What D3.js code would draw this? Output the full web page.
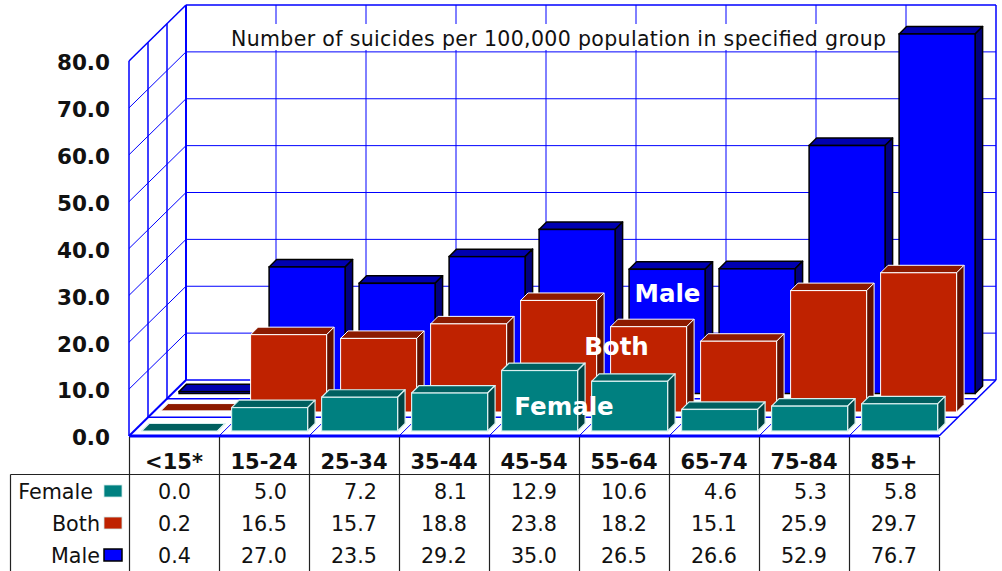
<!DOCTYPE html>
<html><head><meta charset="utf-8">
<script src="https://cdn.jsdelivr.net/npm/d3@7"></script>
<style>html,body{margin:0;padding:0;background:#fff;overflow:hidden}svg{display:block}text{font-family:"DejaVu Sans",Verdana,sans-serif}</style>
</head><body><svg id="c" width="1002" height="571"></svg>
<script>
const categories=["<15*","15-24","25-34","35-44","45-54","55-64","65-74","75-84","85+"];
const female=[0.0,5.0,7.2,8.1,12.9,10.6,4.6,5.3,5.8];
const both=[0.2,16.5,15.7,18.8,23.8,18.2,15.1,25.9,29.7];
const male=[0.4,27.0,23.5,29.2,35.0,26.5,26.6,52.9,76.7];
const seriesNames=["Female","Both","Male"];
const tickValues=[0,10,20,30,40,50,60,70,80];
const titleText="Number of suicides per 100,000 population in specified group";

const series=[
 {name:"Female",values:female,front:"#008080",top:"#006060",side:"#004444",stroke:"#d8f0f0",sw:1.2,depth:6,label:[564,415]},
 {name:"Both",values:both,front:"#bf2200",top:"#8c1a00",side:"#5f1000",stroke:"#ffffff",sw:1,depth:25,label:[616.5,355]},
 {name:"Male",values:male,front:"#0000ff",top:"#0000b0",side:"#00007f",stroke:"#000000",sw:1.5,depth:43.5,label:[667.5,302]}
];
const svg=d3.select("#c");
const x=d3.scaleBand().domain(categories).range([129,939]);
const y=d3.scaleLinear().domain([0,80]).range([436,61]);
const D=57, Dy=56, blue="#0000ff";
const g=svg.append("g");
const line=(x1,y1,x2,y2,w=1,c=blue)=>g.append("line").attr("x1",x1).attr("y1",y1).attr("x2",x2).attr("y2",y2).attr("stroke",c).attr("stroke-width",w);
const x0=x.range()[0],x1=x.range()[1];
// walls and floor
tickValues.forEach(t=>{
  const yy=y(t);
  if(t>0&&t<80){line(x0,yy,x0+D,yy-Dy);line(x0+D,yy-Dy,x1+D,yy-Dy);}
});
const edges=categories.map(c=>x(c)).concat([x1]);
edges.forEach((e,i)=>{
  if(i>0&&i<categories.length) {line(e+D,y(0)-Dy,e+D,y(80)-Dy);line(e,y(0),e+D,y(0)-Dy);}
});
[19,38].forEach(d=>{
  const dy=d*Dy/D;
  line(x0+d,y(0)-dy,x0+d,y(80)-dy,1.5);
  line(x0+d,y(0)-dy,x1+d,y(0)-dy,1.5);
});
line(x0,y(0),x0+D,y(0)-Dy,2);
line(x0,y(0),x0,y(80),1.5);
line(x0,y(80),x0+D,y(80)-Dy,1.5);
line(x0+D,y(0)-Dy,x0+D,y(80)-Dy,2);
line(x0+D,y(80)-Dy,x1+D,y(80)-Dy,1.5);
line(x1+D,y(80)-Dy,x1+D,y(0)-Dy,1.5);
line(x0+D,y(0)-Dy,x1+D,y(0)-Dy,1.5);
line(x1,y(0),x1+D,y(0)-Dy,1.5);
// title
g.append("rect").attr("x",226).attr("y",24).attr("width",664).attr("height",26).attr("fill","#fff");
g.append("text").attr("x",231).attr("y",45.5).attr("font-size",20.5).attr("fill","#111").attr("textLength",655).attr("lengthAdjust","spacing").text(titleText);
// bars, back row first
const bd=7.5, pad=7;
[...series].reverse().forEach(s=>{
  const bw=x.bandwidth()-2*pad;
  const sg=g.append("g");
  const bars=sg.selectAll("g").data(categories.map((c,i)=>({c,v:s.values[i]}))).join("g");
  bars.each(function(d){
    const sel=d3.select(this);
    const l=x(d.c)+pad+s.depth-0.4, r=l+bw, b=y(0)-s.depth+1, t=b-(y(0)-y(d.v));
    const poly=(pts,f,st)=>sel.append("polygon").attr("points",pts.map(p=>p.join(",")).join(" ")).attr("fill",f).attr("stroke",st).attr("stroke-width",s.sw).attr("stroke-linejoin","round");
    poly([[l,t],[l+bd,t-bd],[r+bd,t-bd],[r,t]],s.top,s.stroke);
    poly([[r,t],[r+bd,t-bd],[r+bd,b-bd],[r,b]],s.side,s.stroke);
    sel.append("rect").attr("x",l).attr("y",t).attr("width",bw).attr("height",b-t).attr("fill",s.front).attr("stroke",s.stroke).attr("stroke-width",s.sw);
  });
});
line(x0,y(0),x1,y(0),3);
// series labels
series.forEach(s=>g.append("text").attr("x",s.label[0]).attr("y",s.label[1]).attr("text-anchor","middle").attr("font-size",24.5).attr("font-weight","bold").attr("fill","#fff").text(s.name));
// y axis
const ax=d3.axisLeft(y).tickValues(tickValues).tickFormat(d3.format(".1f")).tickSize(0).tickPadding(0);
const ag=svg.append("g").attr("transform","translate(110,1)").call(ax);
ag.select(".domain").remove();
ag.selectAll("text").attr("font-size",21.5).attr("font-weight","bold").attr("fill","#111").attr("dy","0.36em").style("font-family",'"DejaVu Sans"');
// table
const tg=svg.append("g"), tc="#222";
const tl=(a,b,c,d)=>tg.append("line").attr("x1",a).attr("y1",b).attr("x2",c).attr("y2",d).attr("stroke",tc).attr("stroke-width",1.2);
tl(10.5,474.5,x1,474.5);tl(10.5,474.5,10.5,571);
edges.forEach(e=>tl(e+.5,437,e+.5,571));
categories.forEach(c=>{
  tg.append("text").attr("x",x(c)+x.bandwidth()/2).attr("y",469).attr("text-anchor","middle").attr("font-size",21).attr("font-weight","bold").attr("fill","#111").text(c);
});
const rowY=[499,531,563];
series.forEach((s,ri)=>{
  categories.forEach((c,i)=>{
    const col=series.map(q=>q.values[i]);
    const half=d3.max(col)>=10?23:17;
    tg.append("text").attr("x",x(c)+x.bandwidth()/2+half).attr("y",rowY[ri]).attr("text-anchor","end").attr("font-size",20.7).attr("fill","#111").text(d3.format(".1f")(s.values[i]));
  });
});
// legend
const swatchX=[93,100,100];
series.forEach((s,ri)=>{
  tg.append("text").attr("x",swatchX[ri]).attr("y",rowY[ri]).attr("text-anchor","end").attr("font-size",20.7).attr("fill","#111").text(s.name);
  tg.append("rect").attr("x",104).attr("y",rowY[ri]-14).attr("width",18).attr("height",12).attr("fill",s.front).attr("stroke",s.name==="Male"?"#000":"#cfe8e8").attr("stroke-width",s.name==="Male"?1.5:.8);
});
</script></body></html>
